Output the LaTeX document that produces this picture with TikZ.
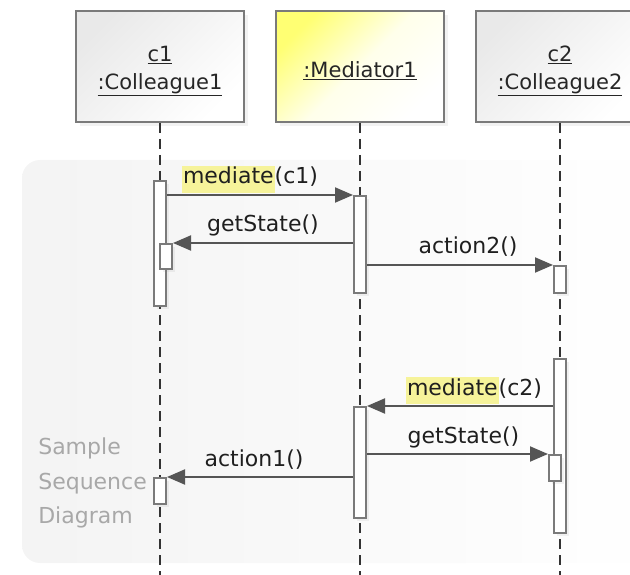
\documentclass[tikz,border=0pt]{standalone}
\usepackage{fontspec}
\setmainfont{DejaVu Sans}
\usetikzlibrary{positioning, arrows.meta, shadows}

\definecolor{linegray}{HTML}{555555}
\definecolor{boxgray}{HTML}{7A7A7A}
\definecolor{notegray}{HTML}{A8A8A8}
\definecolor{hlyellow}{HTML}{F6F39A}
\newcommand{\hlmark}[1]{{\setlength{\fboxsep}{1pt}\colorbox{hlyellow}{\rule[-8pt]{0pt}{24pt}#1}}}

\begin{document}
\begin{tikzpicture}[
    x=1pt, y=-1pt,
    head/.style={draw=boxgray, line width=2pt, rectangle, minimum width=168pt, minimum height=111pt, align=center, text=black!85, font=\fontsize{21}{28}\selectfont, top color=gray!17, bottom color=white, shading angle=45, drop shadow={shadow xshift=4pt, shadow yshift=-4pt, opacity=0.1}},
    medhead/.style={head, top color=yellow!55, bottom color=white, middle color=yellow!8, shading angle=45},
    life/.style={draw=black!80, line width=2pt, dash pattern=on 10pt off 6pt},
    bar/.style={draw=boxgray, line width=2pt, fill=white, rectangle, minimum width=12pt, inner sep=0pt, anchor=north, drop shadow={shadow xshift=3pt, shadow yshift=-3pt, opacity=0.1}},
    msg/.style={draw=linegray, line width=2pt, -{Triangle[length=18pt, width=15pt]}},
    lbl/.style={font=\fontsize{22}{26}\selectfont, text=black!88, inner sep=2pt, text depth=5pt},
    note/.style={font=\fontsize{22}{34.5}\selectfont, text=notegray, align=left, inner sep=0pt},
    panel/.style={left color=gray!9, right color=white, rounded corners=18pt}
]
\useasboundingbox (0,0) rectangle (630,575);

% Hintergrund
\path[panel] (22,160) rectangle (660,563);

% Lebenslinien-Koepfe
\node[head] (c1) at (160,66.5) {\rule{0pt}{24pt}\underline{c1}\\\underline{:Colleague1}};
\node[medhead, right=30pt of c1] (med) {\rule{0pt}{24pt}\underline{:Mediator1}};
\node[head, right=30pt of med] (c2) {\rule{0pt}{24pt}\underline{c2}\\\underline{:Colleague2}};

% Lebenslinien
\draw[life] (c1.south) -- (c1.south |- 0,575);
\draw[life] (med.south) -- (med.south |- 0,575);
\draw[life] (c2.south) -- (c2.south |- 0,575);

% Aktivierungsbalken
\node[bar, minimum height=125pt] (a1) at (c1.south |- 0,180) {};
\node[bar, minimum height=25pt, xshift=6pt] (a1n) at (c1.south |- 0,243) {};
\node[bar, minimum height=97pt] (m1) at (med.south |- 0,195) {};
\node[bar, minimum height=27pt] (b1) at (c2.south |- 0,265) {};
\node[bar, minimum height=174pt] (b2) at (c2.south |- 0,358) {};
\node[bar, minimum height=26pt, xshift=-5pt] (b2n) at (c2.south |- 0,454) {};
\node[bar, minimum height=111pt] (m2) at (med.south |- 0,406) {};
\node[bar, minimum height=26pt] (a2) at (c1.south |- 0,477) {};

\node[note, left=6pt of a2, yshift=8pt] (title) {Sample\\Sequence\\Diagram};

% Nachrichten
\draw[msg] (a1.east |- m1.north) -- (m1.north west) node[midway, above=3pt, lbl, xshift=-10pt] {\hlmark{mediate}(c1)};
\draw[msg] (m1.west |- a1n.north) -- (a1n.north east) node[midway, above=3pt, lbl] {getState()};
\draw[msg] (m1.east |- b1.north) -- (b1.north west) node[midway, above=3pt, lbl, xshift=8pt] {action2()};
\draw[msg] (b2.west |- m2.north) -- (m2.north east) node[midway, above=3pt, lbl, xshift=14pt] {\hlmark{mediate}(c2)};
\draw[msg] (m2.east |- b2n.north) -- (b2n.north west) node[midway, above=3pt, lbl, xshift=6pt] {getState()};
\draw[msg] (m2.west |- a2.north) -- (a2.north east) node[midway, above=3pt, lbl, xshift=-6pt] {action1()};

\end{tikzpicture}
\end{document}
